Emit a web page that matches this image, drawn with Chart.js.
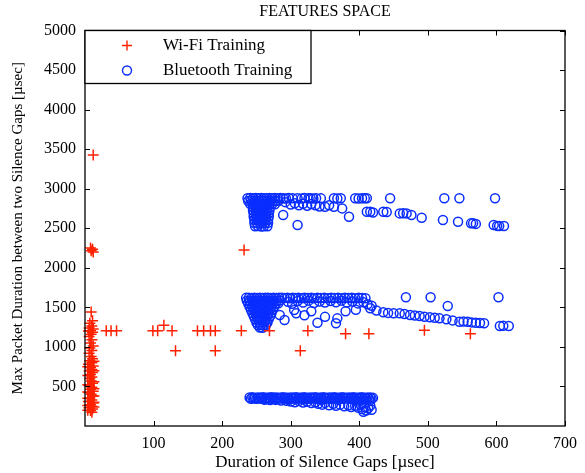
<!DOCTYPE html>
<html>
<head>
<meta charset="utf-8">
<script src="https://cdn.jsdelivr.net/npm/chart.js@4.4.1/dist/chart.umd.min.js"></script>
<style>html,body{margin:0;padding:0;background:#fff;}</style>
</head>
<body>
<canvas id="c" width="585" height="473" style="width:585px;height:473px;display:block"></canvas>
<script>
const chartTitle = 'FEATURES SPACE';
const xAxisTitle = 'Duration of Silence Gaps [µsec]';
const yAxisTitle = 'Max Packet Duration between two Silence Gaps [µsec]';
const seriesNames = ['Wi-Fi Training', 'Bluetooth Training'];
const xTickValues = [100, 200, 300, 400, 500, 600, 700];
const yTickValues = [500, 1000, 1500, 2000, 2500, 3000, 3500, 4000, 4500, 5000];

// Wi-Fi Training points [x, y]
const wifiPoints = [
  [12,3425],
  [8,2250],[11,2235],[9,2215],[12,2200],
  [232,2225],
  [9,1440],[11,1330],[7,1300],[10,1265],[6,1240],[12,1225],[8,1205],[5,1200],[11,1185],[9,1160],
  [6,1130],[10,1090],[8,1050],[12,1010],[7,985],[10,955],[6,920],[9,880],[11,850],[7,825],
  [10,800],[5,780],[12,760],[8,740],[10,715],[6,695],[11,675],[8,650],[10,620],[7,600],
  [9,570],[11,540],[6,510],[10,490],[8,465],[12,440],[6,420],[9,400],[11,375],[7,355],
  [10,330],[5,310],[12,290],[8,270],[10,250],[6,230],[11,215],[8,195],[10,175],[13,700],[4,640],[13,300],[4,260],
  [13,820],[4,750],[13,470],[4,430],[13,380],[4,350],[13,240],[4,200],[13,560],[4,520],
  [31,1205],[38,1205],[46,1205],[99,1205],[106,1205],[115,1275],[127,1205],
  [164,1205],[173,1205],[183,1205],[190,1205],[228,1205],[269,1205],[325,1205],[495,1212],
  [380,1165],[414,1165],[562,1165],
  [132,952],[190,952],[314,952]
];

// Bluetooth Training points [x, y]
const btLowBand = [
  [240,360],[244,362],[248,358],[252,361],[256,359],[260,362],[264,358],[268,360],[272,363],[276,359],
  [280,361],[284,357],[288,362],[292,360],[296,358],[300,361],[304,359],[308,363],[312,358],[316,360],
  [320,362],[324,357],[328,361],[332,359],[336,362],[340,358],[344,360],[348,363],[352,357],[356,361],
  [360,359],[364,362],[368,358],[372,360],[376,363],[380,357],[384,361],[388,359],[392,362],[396,358],
  [400,360],[404,363],[408,357],[412,361],[416,359],[420,356],
  [242,345],[246,348],[250,344],[254,347],[258,343],[262,346],[266,349],[270,344],[274,347],[278,343],
  [282,346],[286,349],[290,344],[294,347],[298,342],[302,346],[306,349],[310,343],[314,347],[318,344],
  [322,348],[326,343],[330,346],[334,349],[338,344],[342,347],[346,342],[350,346],[354,349],[358,343],
  [362,347],[366,344],[370,348],[374,343],[378,346],[382,349],[386,344],[390,347],[394,342],[398,346],
  [402,349],[406,343],[410,347],[414,344],[418,348],
  [262,332],[270,328],[278,330],[286,322],[294,318],[300,310],[306,300],[312,315],[318,298],[324,305],
  [330,290],[336,300],[340,282],[346,270],[350,292],[356,262],[362,280],[366,255],[372,270],[378,250],
  [384,262],[388,240],[394,255],[398,232],[402,270],[404,215],[408,240],[410,195],[413,225],[416,260],
  [418,205],[406,180],[320,335],[345,330],[370,330],[395,320],[415,320]
];
const btMidBand = [
  [235,1620],[239,1622],[243,1618],[247,1621],[251,1619],[255,1622],[259,1618],[263,1620],[267,1622],[271,1619],[275,1621],[279,1618],[283,1622],[287,1620],[291,1617],
  [236,1585],[240,1583],[244,1587],[248,1584],[252,1586],[256,1582],[260,1585],[264,1587],[268,1583],[272,1586],[276,1584],[280,1582],[284,1586],
  [238,1550],[242,1548],[246,1552],[250,1549],[254,1551],[258,1547],[262,1550],[266,1553],[270,1549],[274,1551],[278,1548],[282,1552],
  [240,1510],[244,1512],[248,1508],[252,1511],[256,1509],[260,1513],[264,1508],[268,1510],[272,1512],[276,1507],
  [242,1470],[246,1472],[250,1468],[254,1471],[258,1469],[262,1473],[266,1468],[270,1470],[274,1472],
  [244,1430],[248,1432],[252,1428],[256,1431],[260,1429],[264,1433],[268,1428],[272,1430],
  [246,1390],[250,1392],[254,1388],[258,1391],[262,1389],[266,1393],[270,1388],
  [248,1350],[252,1352],[256,1348],[260,1351],[264,1349],[268,1353],
  [250,1310],[254,1312],[258,1308],[262,1311],[266,1309],
  [252,1275],[256,1277],[260,1273],[264,1276],
  [255,1245],[259,1242],
  [295,1620],[299,1615],[303,1622],[307,1618],[311,1620],[316,1616],[320,1622],[325,1618],[330,1620],[334,1615],
  [339,1622],[344,1618],[349,1620],[354,1616],[359,1622],[364,1618],[369,1620],[374,1616],[379,1622],[384,1618],
  [389,1620],[394,1616],[399,1620],[404,1618],[409,1615],
  [296,1570],[302,1545],[310,1580],[318,1560],[326,1585],[334,1555],[342,1575],[350,1560],[358,1580],[366,1565],
  [374,1585],[382,1560],[390,1575],[398,1550],[406,1565],[412,1540],[418,1520],
  [416,1488],[425,1460],[435,1437],[442,1430],[450,1424],[459,1424],[466,1415],[474,1403],[481,1398],[488,1390],
  [495,1382],[503,1374],[510,1368],[517,1361],[527,1349],[536,1335],[546,1318],[552,1322],[558,1318],[564,1310],
  [570,1306],[576,1302],[582,1298],[605,1264],[610,1266],[618,1264],
  [468,1627],[504,1627],[603,1627],[529,1517],
  [291,1340],[308,1424],[305,1466],[339,1306],[366,1298],[368,1361],[284,1403],[320,1400],[350,1380],[380,1450],[395,1470],[330,1450]
];
const btHighBand = [
  [237,2880],[241,2882],[245,2878],[249,2881],[253,2879],[257,2882],[261,2878],[265,2880],[269,2883],[273,2879],[277,2881],[281,2878],[285,2882],
  [238,2845],[242,2847],[246,2843],[250,2846],[254,2844],[258,2848],[262,2843],[266,2845],[270,2847],[274,2842],[278,2846],[282,2844],
  [241,2805],[245,2807],[249,2803],[253,2806],[257,2804],[261,2808],[265,2803],[269,2805],[273,2807],[277,2802],
  [245,2765],[249,2767],[253,2763],[257,2766],[261,2764],[265,2768],[269,2763],
  [245,2725],[249,2727],[253,2723],[257,2726],[261,2724],[265,2728],[269,2723],
  [246,2685],[250,2687],[255,2683],[259,2686],[264,2684],[268,2688],
  [246,2645],[250,2647],[255,2643],[259,2646],[264,2644],[268,2648],
  [247,2605],[251,2607],[255,2603],[259,2606],[263,2604],[267,2608],
  [247,2565],[251,2567],[255,2563],[259,2566],[263,2564],[267,2568],
  [248,2525],[252,2527],[257,2523],[261,2526],[266,2524],
  [289,2880],[293,2876],[297,2882],[303,2878],[310,2880],[316,2875],[320,2882],[326,2878],[329,2880],[333,2876],
  [337,2880],[344,2878],[363,2880],[368,2876],[373,2880],[394,2880],[399,2876],[404,2880],[408,2878],[411,2880],
  [292,2830],[300,2800],[306,2815],[312,2790],[318,2810],[324,2785],[330,2805],[336,2790],[342,2775],[350,2772],[356,2790],
  [445,2880],[524,2880],[546,2880],[598,2880],
  [289,2667],[310,2541],[363,2772],[375,2751],[385,2646],[411,2709],[416,2709],[420,2700],[435,2709],[440,2705],
  [459,2688],[464,2690],[469,2688],[476,2667],[491,2633],[522,2604],[544,2583],[563,2562],[566,2562],[570,2555],
  [596,2541],[601,2530],[604,2528],[611,2528]
];

const wifiColor = '#ff2200';
const btColor = '#0a2dff';
const FONT = "'Liberation Serif','Times New Roman',Times,serif";

const toXY = arr => arr.map(p => ({x: p[0], y: p[1]}));
const btPoints = btLowBand.concat(btMidBand, btHighBand);

const framePlugin = {
  id: 'frame',
  afterDraw(chart) {
    const {ctx, chartArea: a, scales: {x, y}} = chart;
    ctx.save();
    // title centred over the plot area
    ctx.fillStyle = '#000';
    ctx.font = '16px ' + FONT;
    ctx.textAlign = 'center';
    ctx.textBaseline = 'middle';
    ctx.fillText(chartTitle, (a.left + a.right) / 2, 12);

    ctx.strokeStyle = '#000';
    ctx.lineWidth = 1;
    const L = 5;
    ctx.beginPath();
    xTickValues.forEach(v => {
      const px = Math.round(x.getPixelForValue(v)) + 0.5;
      ctx.moveTo(px, a.bottom); ctx.lineTo(px, a.bottom - L);
      ctx.moveTo(px, a.top); ctx.lineTo(px, a.top + L);
    });
    yTickValues.forEach(v => {
      const py = Math.round(y.getPixelForValue(v)) + 0.5;
      ctx.moveTo(a.left, py); ctx.lineTo(a.left + L, py);
      ctx.moveTo(a.right, py); ctx.lineTo(a.right - L, py);
    });
    ctx.stroke();
    ctx.lineWidth = 1.3;
    ctx.strokeRect(a.left, a.top, a.right - a.left, a.bottom - a.top);

    // legend box
    const lx = a.left, ly = a.top, lw = 226, lh = 53;
    ctx.fillStyle = '#fff';
    ctx.fillRect(lx, ly, lw, lh);
    ctx.strokeRect(lx, ly, lw, lh);
    const ds = chart.data.datasets;
    const mx = lx + 42;
    const rows = [ly + 15, ly + 40];
    ctx.strokeStyle = ds[0].borderColor;
    ctx.lineWidth = 1.4;
    ctx.beginPath();
    ctx.moveTo(mx - 5, rows[0]); ctx.lineTo(mx + 5, rows[0]);
    ctx.moveTo(mx, rows[0] - 5); ctx.lineTo(mx, rows[0] + 5);
    ctx.stroke();
    ctx.strokeStyle = ds[1].borderColor;
    ctx.lineWidth = 1.4;
    ctx.beginPath();
    ctx.arc(mx, rows[1], 4.5, 0, Math.PI * 2);
    ctx.stroke();
    ctx.fillStyle = '#000';
    ctx.font = '17px ' + FONT;
    ctx.textBaseline = 'middle';
    ctx.textAlign = 'left';
    ctx.fillText(ds[0].label, lx + 78, rows[0]);
    ctx.fillText(ds[1].label, lx + 78, rows[1]);
    ctx.restore();
  }
};

new Chart(document.getElementById('c').getContext('2d'), {
  type: 'scatter',
  data: {
    datasets: [
      {
        label: seriesNames[0],
        data: toXY(wifiPoints),
        pointStyle: 'cross',
        pointRadius: 5.5,
        pointHoverRadius: 5.5,
        borderColor: wifiColor,
        backgroundColor: wifiColor,
        borderWidth: 1.5,
        clip: false
      },
      {
        label: seriesNames[1],
        data: toXY(btPoints),
        pointStyle: 'circle',
        pointRadius: 4.5,
        pointHoverRadius: 4.5,
        borderColor: btColor,
        backgroundColor: 'rgba(0,0,0,0)',
        borderWidth: 1.5
      }
    ]
  },
  options: {
    responsive: false,
    animation: false,
    devicePixelRatio: 1,
    events: [],
    layout: {padding: {top: 30.5, right: 15, bottom: 0, left: 0}},
    plugins: {
      legend: {display: false},
      tooltip: {enabled: false},
      title: {display: false}
    },
    scales: {
      x: {
        type: 'linear',
        min: 0,
        max: 700,
        afterBuildTicks(s) { s.ticks = xTickValues.map(v => ({value: v})); },
        afterFit(s) { s.height = 47; },
        grid: {display: false, drawTicks: false},
        border: {display: false},
        ticks: {color: '#000', font: {family: FONT, size: 16}, padding: 8, maxRotation: 0, autoSkip: false,
                callback: v => String(v)},
        title: {display: true, text: xAxisTitle, color: '#000', font: {family: FONT, size: 17}, padding: {top: 0, bottom: 0}}
      },
      y: {
        type: 'linear',
        min: 0,
        max: 5000,
        afterBuildTicks(s) { s.ticks = yTickValues.map(v => ({value: v})); },
        afterFit(s) { s.width = 85; },
        grid: {display: false, drawTicks: false},
        border: {display: false},
        ticks: {color: '#000', font: {family: FONT, size: 16}, padding: 9, autoSkip: false,
                callback: v => String(v)},
        title: {display: true, text: yAxisTitle, color: '#000', font: {family: FONT, size: 15}, padding: {top: 9, bottom: 0}}
      }
    }
  },
  plugins: [framePlugin]
});
</script>
</body>
</html>
